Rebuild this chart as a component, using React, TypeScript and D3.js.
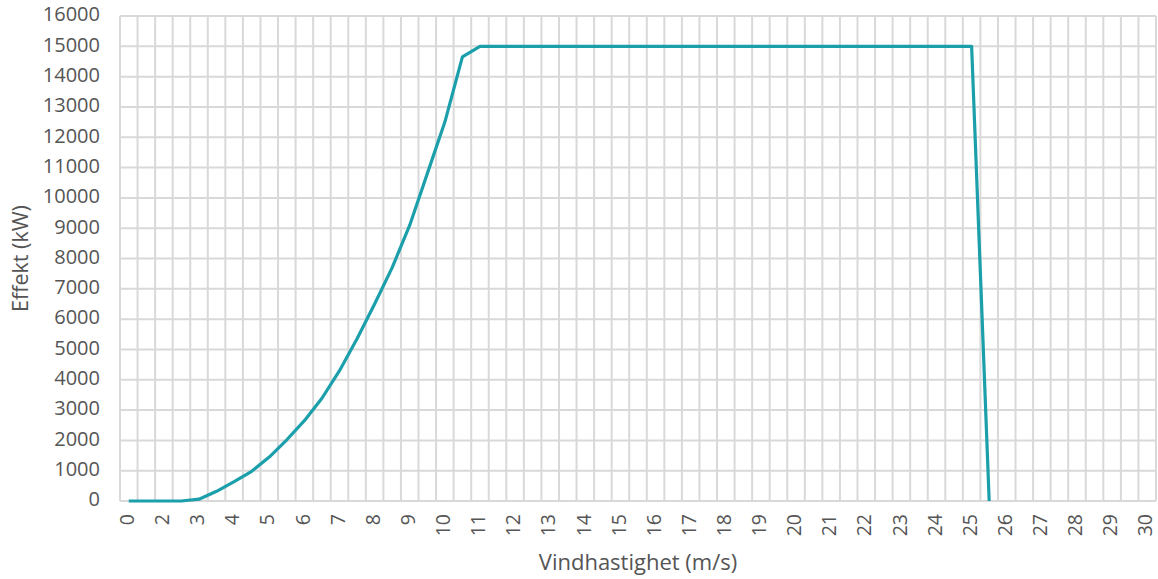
import React from 'react';
import * as d3 from 'd3';

// wind speed categories (m/s) - Excel category axis, every other label shown
const speeds = [
  '0', '1', '2', '2.5', '3', '3.5', '4', '4.5', '5', '5.5', '6', '6.5', '7', '7.5', '8', '8.5',
  '9', '9.5', '10', '10.5', '11', '11.5', '12', '12.5', '13', '13.5', '14', '14.5', '15', '15.5',
  '16', '16.5', '17', '17.5', '18', '18.5', '19', '19.5', '20', '20.5', '21', '21.5', '22', '22.5',
  '23', '23.5', '24', '24.5', '25', '25.5', '26', '26.5', '27', '27.5', '28', '28.5', '29', '29.5', '30',
];

// power output (kW)
const power: (number | null)[] = [
  0, 0, 0, 0, 60, 320, 640, 980, 1450, 2020, 2650, 3390, 4300, 5350, 6500, 7700,
  9100, 10800, 12500, 14650, 15000, 15000, 15000, 15000, 15000, 15000, 15000, 15000, 15000, 15000,
  15000, 15000, 15000, 15000, 15000, 15000, 15000, 15000, 15000, 15000, 15000, 15000, 15000, 15000,
  15000, 15000, 15000, 15000, 15000, 0, null, null, null, null, null, null, null, null, null,
];

const yTicks = [0, 1000, 2000, 3000, 4000, 5000, 6000, 7000, 8000, 9000, 10000, 11000, 12000, 13000, 14000, 15000, 16000];

const W = 1158;
const H = 579;
const plot = { left: 120, right: 1156, top: 16, bottom: 501 };
const FONT = '"Open Sans", sans-serif';
const TEXT = '#555555';
const GRID = '#d9d9d9';
const LINE = '#1b9fab';

const App: React.FC = () => {
  const x = d3.scaleBand<string>().domain(speeds).range([plot.left, plot.right]).paddingInner(0).paddingOuter(0);
  const y = d3.scaleLinear().domain([0, 16000]).range([plot.bottom, plot.top]);
  const bw = x.bandwidth();

  const pts = speeds.map((s, i) => ({ s, v: power[i] }));
  const line = d3.line<{ s: string; v: number | null }>()
    .defined(d => d.v != null)
    .x(d => (x(d.s) as number) + bw / 2)
    .y(d => y(d.v as number));

  const boundaries = speeds.map(s => x(s) as number).concat([plot.right]);

  return (
    <svg width={W} height={H} style={{ position: 'absolute', left: 0, top: 0, background: '#fff' }}>
      {/* horizontal gridlines */}
      {yTicks.map(t => (
        <line key={'h' + t} x1={plot.left} x2={plot.right} y1={y(t)} y2={y(t)} stroke={GRID} strokeWidth={2} />
      ))}
      {/* vertical gridlines at category boundaries */}
      {boundaries.map((b, i) => (
        <line key={'v' + i} x1={b} x2={b} y1={plot.top} y2={plot.bottom} stroke={GRID} strokeWidth={2} />
      ))}

      <path d={line(pts) || ''} fill="none" stroke={LINE} strokeWidth={3.2} strokeLinejoin="round" />

      {/* y tick labels */}
      {yTicks.map(t => (
        <text key={'yt' + t} x={100} y={y(t)} textAnchor="end" dominantBaseline="middle"
          fontFamily={FONT} fontSize={20} fill={TEXT}>{t}</text>
      ))}

      {/* x tick labels, rotated */}
      {speeds.map((s, i) => i % 2 === 0 ? (
        <text key={'xt' + s} transform={`translate(${(x(s) as number) + bw / 2},${plot.bottom + 13}) rotate(-90)`}
          textAnchor="end" dominantBaseline="middle" fontFamily={FONT} fontSize={19.5} fill={TEXT}>{s}</text>
      ) : null)}

      <text transform={`translate(22,${(plot.top + plot.bottom) / 2}) rotate(-90)`} textAnchor="middle"
        dominantBaseline="middle" fontFamily={FONT} fontSize={21.5} fill={TEXT}>Effekt (kW)</text>
      <text x={638} y={564} textAnchor="middle" dominantBaseline="middle" fontFamily={FONT} fontSize={22}
        fill={TEXT}>Vindhastighet (m/s)</text>
    </svg>
  );
};

export default App;
